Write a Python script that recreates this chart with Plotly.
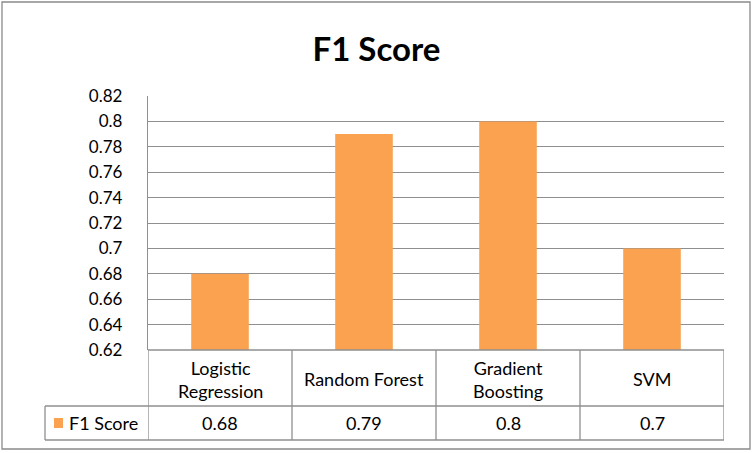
import plotly.graph_objects as go

categories = ["Logistic Regression", "Random Forest", "Gradient Boosting", "SVM"]
header_labels = ["Logistic<br>Regression", "Random Forest", "Gradient<br>Boosting", "SVM"]
f1_scores = [0.68, 0.79, 0.8, 0.7]
value_labels = ["0.68", "0.79", "0.8", "0.7"]
series_name = "F1 Score"
y_ticks = [0.62, 0.64, 0.66, 0.68, 0.70, 0.72, 0.74, 0.76, 0.78, 0.80, 0.82]
y_tick_text = ["0.62", "0.64", "0.66", "0.68", "0.7", "0.72", "0.74", "0.76", "0.78", "0.8", "0.82"]

W, H = 753, 453
FONT = "Lato, 'Open Sans', sans-serif"
GRID = "#8f8f8f"
ORANGE = "#FAA250"

def px(x):
    return x / W

def py(y):
    return (H - y) / H

x_left, x_right = 148, 724
y_top, y_bottom = 96, 350
row1_bottom = 406
row2_bottom = 440
label_left = 45

fig = go.Figure()
fig.add_trace(go.Bar(
    x=list(range(len(categories))), y=f1_scores, base=0,
    marker=dict(color=ORANGE, line=dict(width=0)),
    width=0.4, name=series_name, showlegend=False,
))

fig.update_layout(
    width=W, height=H,
    margin=dict(l=0, r=0, t=0, b=0, pad=0, autoexpand=False),
    paper_bgcolor="white", plot_bgcolor="white",
    font=dict(family=FONT, size=17, color="black"),
    title=dict(text="<b>F1 Score</b>", x=0.5, xanchor="center", y=py(49), yanchor="middle",
               automargin=False, font=dict(family=FONT, size=33, color="black")),
    xaxis=dict(domain=[px(x_left), px(x_right)], range=[-0.5, 3.5], automargin=False,
               showticklabels=False, showgrid=False, zeroline=False, showline=False, ticks=""),
    yaxis=dict(domain=[py(y_bottom), py(y_top)], range=[0.62, 0.82], automargin=False,
               tickvals=y_ticks, ticktext=y_tick_text, showgrid=True, gridcolor=GRID, gridwidth=1.3,
               zeroline=False, showline=True, linecolor=GRID, linewidth=1.3, ticks="",
               ticklabelstandoff=21, tickfont=dict(family=FONT, size=17, color="black")),
    bargap=0.6,
)

shapes = []
line = dict(color=GRID, width=1.3)
# outer border
shapes.append(dict(type="rect", xref="paper", yref="paper", x0=px(2), x1=px(750), y0=py(449), y1=py(2),
                   line=dict(color="#8a8a8a", width=1.3)))
# table horizontal lines
shapes.append(dict(type="line", xref="paper", yref="paper", x0=px(x_left), x1=px(x_right), y0=py(y_bottom), y1=py(y_bottom), line=line))
shapes.append(dict(type="line", xref="paper", yref="paper", x0=px(label_left), x1=px(x_right), y0=py(row1_bottom), y1=py(row1_bottom), line=line))
shapes.append(dict(type="line", xref="paper", yref="paper", x0=px(label_left), x1=px(x_right), y0=py(row2_bottom), y1=py(row2_bottom), line=line))
# table vertical lines at category boundaries
for i in range(len(categories) + 1):
    shapes.append(dict(type="line", xref="x", yref="paper", x0=i - 0.5, x1=i - 0.5,
                       y0=py(row2_bottom), y1=py(y_bottom), line=line))
# left label cell
shapes.append(dict(type="line", xref="paper", yref="paper", x0=px(label_left), x1=px(label_left),
                   y0=py(row2_bottom), y1=py(row1_bottom), line=line))
# legend swatch
shapes.append(dict(type="rect", xref="paper", yref="paper", x0=px(54), x1=px(63), y0=py(428), y1=py(418),
                   fillcolor=ORANGE, line=dict(width=0)))
fig.update_layout(shapes=shapes)

annotations = []
for i, (lab, val) in enumerate(zip(header_labels, value_labels)):
    annotations.append(dict(x=i, y=py((y_bottom + row1_bottom) / 2 + 1), xref="x", yref="paper",
                            text=lab, showarrow=False, xanchor="center", yanchor="middle",
                            font=dict(family=FONT, size=18, color="black")))
    annotations.append(dict(x=i, y=py((row1_bottom + row2_bottom) / 2), xref="x", yref="paper",
                            text=val, showarrow=False, xanchor="center", yanchor="middle",
                            font=dict(family=FONT, size=18, color="black")))
annotations.append(dict(x=px(67), y=py((row1_bottom + row2_bottom) / 2), xref="paper", yref="paper",
                        text=series_name, showarrow=False, xanchor="left", yanchor="middle",
                        font=dict(family=FONT, size=18, color="black")))
fig.update_layout(annotations=annotations)

fig.write_html("out.html", config={"displayModeBar": False},
               post_script="document.body.style.margin='0';document.body.style.overflow='hidden';")
